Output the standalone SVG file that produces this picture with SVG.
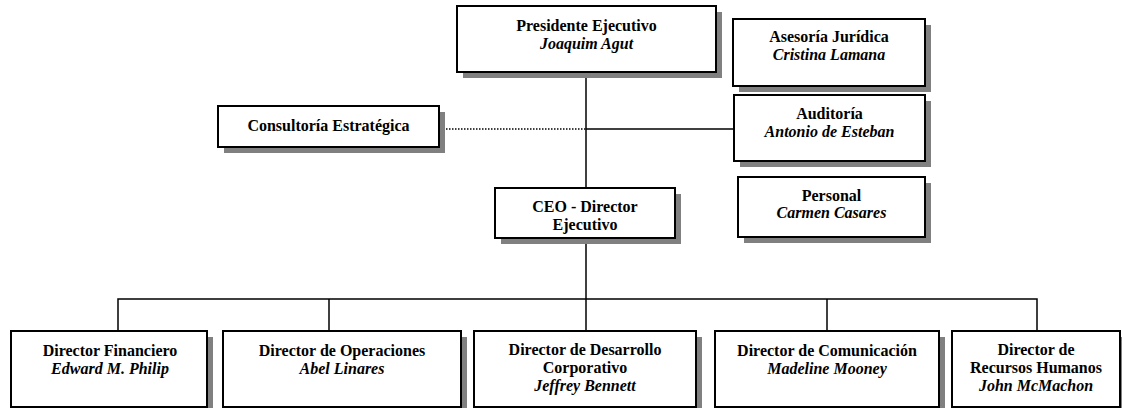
<svg xmlns="http://www.w3.org/2000/svg" width="1122" height="408" viewBox="0 0 1122 408">
<style>
.sh{fill:#808080}
.bx{fill:#fff;stroke:#000;stroke-width:2}
text{font-family:"Liberation Serif","Times New Roman",serif;font-size:16px;text-anchor:middle;fill:#000}
.b{font-weight:bold}
.i{font-weight:bold;font-style:italic}
.ln{stroke:#000;stroke-width:1.5;fill:none}
.dt{stroke:#000;stroke-width:1.5;stroke-dasharray:1.5 1.5;fill:none}
</style>
<rect width="1122" height="408" fill="#fff"/>
<g id="connectors">
<line class="ln" x1="586" y1="72" x2="586" y2="188"/>
<line class="dt" x1="446" y1="129" x2="586" y2="129"/>
<line class="ln" x1="586" y1="129" x2="734" y2="129"/>
<line class="ln" x1="586" y1="238" x2="586" y2="299"/>
<polyline class="ln" points="118,331 118,299 1037,299 1037,331"/>
<line class="ln" x1="329" y1="299" x2="329" y2="331"/>
<line class="ln" x1="586" y1="299" x2="586" y2="331"/>
<line class="ln" x1="827" y1="299" x2="827" y2="331"/>
</g>
<g id="presidente">
<rect class="sh" x="463" y="12" width="259" height="66"/>
<rect class="bx" x="457" y="6" width="259" height="66"/>
<text class="b" x="586.5" y="31">Presidente Ejecutivo</text>
<text class="i" x="586.5" y="49">Joaquim Agut</text>
</g>
<g id="asesoria">
<rect class="sh" x="739" y="25" width="192" height="67"/>
<rect class="bx" x="733" y="19" width="192" height="67"/>
<text class="b" x="829" y="42">Asesoría Jurídica</text>
<text class="i" x="829" y="60">Cristina Lamana</text>
</g>
<g id="consultoria">
<rect class="sh" x="224" y="112" width="221" height="41"/>
<rect class="bx" x="218" y="106" width="221" height="41"/>
<text class="b" x="328.5" y="131">Consultoría Estratégica</text>
</g>
<g id="auditoria">
<rect class="sh" x="740" y="101" width="191" height="66"/>
<rect class="bx" x="734" y="95" width="191" height="66"/>
<text class="b" x="829.5" y="119">Auditoría</text>
<text class="i" x="829.5" y="137">Antonio de Esteban</text>
</g>
<g id="ceo">
<rect class="sh" x="501" y="194" width="180" height="50"/>
<rect class="bx" x="495" y="188" width="180" height="50"/>
<text class="b" x="585" y="212">CEO - Director</text>
<text class="b" x="585" y="230">Ejecutivo</text>
</g>
<g id="personal">
<rect class="sh" x="744" y="183" width="187" height="60"/>
<rect class="bx" x="738" y="177" width="187" height="60"/>
<text class="b" x="831.5" y="201">Personal</text>
<text class="i" x="831.5" y="218">Carmen Casares</text>
</g>
<g id="financiero">
<rect class="sh" x="17" y="337" width="196" height="76"/>
<rect class="bx" x="11" y="331" width="196" height="76"/>
<text class="b" x="110" y="356">Director Financiero</text>
<text class="i" x="110" y="374">Edward M. Philip</text>
</g>
<g id="operaciones">
<rect class="sh" x="229" y="337" width="238" height="76"/>
<rect class="bx" x="223" y="331" width="238" height="76"/>
<text class="b" x="342" y="356">Director de Operaciones</text>
<text class="i" x="342" y="374">Abel Linares</text>
</g>
<g id="desarrollo">
<rect class="sh" x="480" y="337" width="222" height="76"/>
<rect class="bx" x="474" y="331" width="222" height="76"/>
<text class="b" x="585" y="355">Director de Desarrollo</text>
<text class="b" x="585" y="373">Corporativo</text>
<text class="i" x="585" y="391">Jeffrey Bennett</text>
</g>
<g id="comunicacion">
<rect class="sh" x="721" y="337" width="224" height="76"/>
<rect class="bx" x="715" y="331" width="224" height="76"/>
<text class="b" x="827" y="356">Director de Comunicación</text>
<text class="i" x="827" y="374">Madeline Mooney</text>
</g>
<g id="rrhh">
<rect class="sh" x="958" y="337" width="168" height="76"/>
<rect class="bx" x="952" y="331" width="168" height="76"/>
<text class="b" x="1036" y="355">Director de</text>
<text class="b" x="1036" y="373">Recursos Humanos</text>
<text class="i" x="1036" y="391">John McMachon</text>
</g>
</svg>
